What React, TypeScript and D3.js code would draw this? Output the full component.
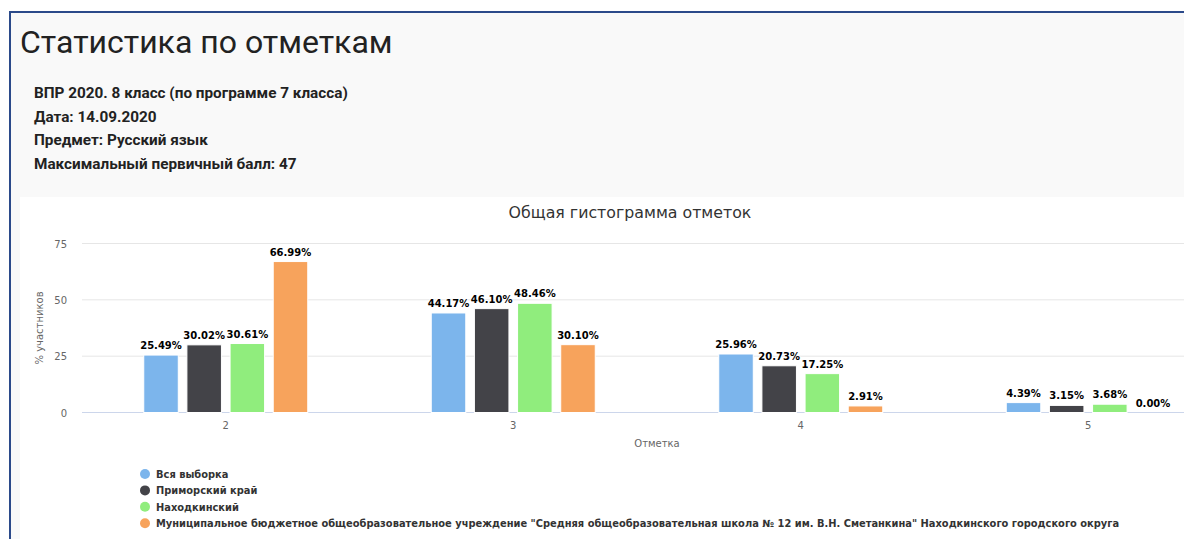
import * as d3 from 'd3';

const categories = ['2', '3', '4', '5'];
const seriesNames = [
  'Вся выборка',
  'Приморский край',
  'Находкинский',
  'Муниципальное бюджетное общеобразовательное учреждение "Средняя общеобразовательная школа № 12 им. В.Н. Сметанкина" Находкинского городского округа',
];
const allSample = [25.49, 44.17, 25.96, 4.39];
const primorsky = [30.02, 46.1, 20.73, 3.15];
const nakhodka = [30.61, 48.46, 17.25, 3.68];
const school = [66.99, 30.1, 2.91, 0.0];
const yTicks = [0, 25, 50, 75];
const infoLines = [
  'ВПР 2020. 8 класс (по программе 7 класса)',
  'Дата: 14.09.2020',
  'Предмет: Русский язык',
  'Максимальный первичный балл: 47',
];

const colors = ['#7cb5ec', '#434348', '#90ed7d', '#f7a35c'];
const seriesValues = [allSample, primorsky, nakhodka, school];

const W = 1184;
const H = 539;
const font = '"DejaVu Sans", Verdana, sans-serif';

export default function App() {
  const plotLeft = 82;
  const plotRight = 1232;
  const x = d3.scaleBand<string>().domain(categories).range([plotLeft, plotRight]);
  const y = d3.scaleLinear().domain([0, 75]).range([412.5, 243.5]);
  const inner = d3
    .scaleBand<number>()
    .domain(d3.range(seriesNames.length))
    .range([x.bandwidth() / 2 - 82, x.bandwidth() / 2 + 82])
    .paddingInner(0.2);

  return (
    <div style={{ position: 'absolute', left: 0, top: 0 }}>
      <svg width={W} height={H} style={{ display: 'block' }}>
        <rect x={0} y={0} width={W} height={H} fill="#ffffff" />
        {/* page panel */}
        <rect x={10} y={12} width={W} height={H} fill="#f9f9f9" />
        <line x1={10} x2={10} y1={11} y2={H} stroke="#2b4a8a" strokeWidth={2} />
        <line x1={9} x2={W} y1={12} y2={12} stroke="#2b4a8a" strokeWidth={2} />
        <text x={20} y={53} fontFamily="Roboto, sans-serif" fontSize={32} fill="#222">
          Статистика по отметкам
        </text>
        {infoLines.map((t, i) => (
          <text
            key={t}
            x={34}
            y={98 + i * 23.5}
            fontFamily="Roboto, sans-serif"
            fontWeight="bold"
            fontSize={15.3}
            fill="#222"
          >
            {t}
          </text>
        ))}
        {/* chart area */}
        <rect x={20} y={197} width={W} height={H} fill="#ffffff" />
        <text x={630} y={218} textAnchor="middle" fontFamily={font} fontSize={15.8} fill="#333333">
          Общая гистограмма отметок
        </text>
        {yTicks.map((t) => (
          <g key={t}>
            <line
              x1={plotLeft}
              x2={plotRight}
              y1={y(t)}
              y2={y(t)}
              stroke={t === 0 ? '#ccd6eb' : '#e6e6e6'}
              strokeWidth={1}
            />
            <text x={67} y={y(t) + 4} textAnchor="end" fontFamily={font} fontSize={10} fill="#666666">
              {t}
            </text>
          </g>
        ))}
        <text
          transform={`translate(43,${y(37.5)}) rotate(-90)`}
          textAnchor="middle"
          fontFamily={font}
          fontSize={10}
          fill="#666666"
        >
          % участников
        </text>
        {categories.map((c) => (
          <text
            key={c}
            x={(x(c) ?? 0) + x.bandwidth() / 2}
            y={429}
            textAnchor="middle"
            fontFamily={font}
            fontSize={10}
            fill="#666666"
          >
            {c}
          </text>
        ))}
        <text x={657} y={447} textAnchor="middle" fontFamily={font} fontSize={10} fill="#666666">
          Отметка
        </text>
        {seriesValues.map((vals, s) =>
          vals.map((v, i) => {
            const bx = (x(categories[i]) ?? 0) + (inner(s) ?? 0);
            const bw = inner.bandwidth();
            const top = y(v);
            return (
              <g key={`${s}-${i}`}>
                {v > 0 && (
                  <rect
                    x={bx}
                    y={top}
                    width={bw}
                    height={y(0) - top}
                    fill={colors[s]}
                    stroke="#ffffff"
                    strokeWidth={1}
                  />
                )}
                <text
                  x={bx + bw / 2}
                  y={top - 6}
                  textAnchor="middle"
                  fontFamily={font}
                  fontWeight="bold"
                  fontSize={10}
                  fill="#000000"
                  stroke="#ffffff"
                  strokeWidth={2}
                  paintOrder="stroke"
                  strokeLinejoin="round"
                >
                  {v.toFixed(2)}%
                </text>
              </g>
            );
          })
        )}
        {seriesNames.map((n, i) => (
          <g key={n} transform={`translate(145,${474 + i * 16.4})`}>
            <circle cx={0} cy={0} r={5} fill={colors[i]} />
            <text x={11} y={4} fontFamily={font} fontWeight="bold" fontSize={9.9} fill="#333333">
              {n}
            </text>
          </g>
        ))}
      </svg>
    </div>
  );
}
